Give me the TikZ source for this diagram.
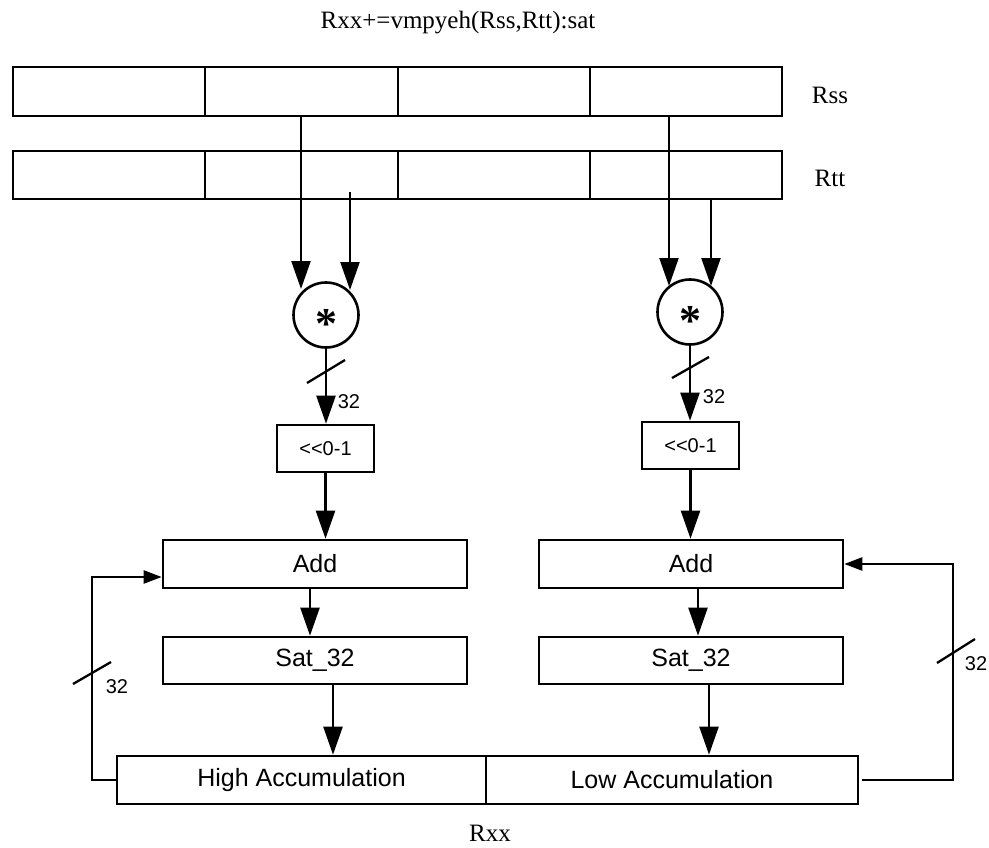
\documentclass[tikz,border=0pt]{standalone}
\usepackage{fontspec}
\setmainfont{Liberation Serif}
\setsansfont{Liberation Sans}
\usetikzlibrary{arrows.meta}
\begin{document}
\begin{tikzpicture}[x=1pt,y=-1pt,
  cell/.style={draw, line width=2.6pt, inner sep=0pt, minimum width=192pt, minimum height=49pt},
  unit/.style={draw, line width=2.6pt, inner sep=0pt, minimum width=304pt, minimum height=48pt, font=\sffamily\fontsize{25}{25}\selectfont},
  shbox/.style={draw, line width=2.6pt, inner sep=0pt, minimum width=97pt, minimum height=47pt, font=\sffamily\fontsize{20}{20}\selectfont},
  mul/.style={draw, circle, line width=2.6pt, inner sep=0pt, minimum size=65pt},
  conn/.style={line width=2.3pt},
  bigtip/.style={-{Triangle[length=28pt,width=19pt]}},
  smalltip/.style={-{Triangle[length=18pt,width=13pt]}},
  lbl/.style={font=\fontsize{25}{25}\selectfont, inner sep=0pt},
  bits/.style={font=\sffamily\fontsize{20}{20}\selectfont, inner sep=0pt},
  star/.style={font=\bfseries\fontsize{44}{44}\selectfont, inner sep=0pt}
]
\useasboundingbox (0,0) rectangle (989,848);

% title
\node[lbl] (title) at (458,23) {Rxx+=vmpyeh(Rss,Rtt):sat};

% Rss register
\node[cell] (s1) at (109,91.5) {};
\node[cell, minimum width=193pt] (s2) at (301.5,91.5) {};
\node[cell] (s3) at (494,91.5) {};
\node[cell] (s4) at (686,91.5) {};
\node[lbl] (rss) at (830,95) {Rss};

% Rtt register
\node[cell, minimum height=48pt] (t1) at (109,175) {};
\node[cell, minimum width=193pt, minimum height=48pt] (t2) at (301.5,175) {};
\node[cell, minimum height=48pt] (t3) at (494,175) {};
\node[cell, minimum height=48pt] (t4) at (686,175) {};
\node[lbl] (rtt) at (830,178) {Rtt};

% multipliers
\node[mul] (m1) at (326,315) {};
\node[star] (st1) at (326,324) {*};
\node[mul] (m2) at (690,312) {};
\node[star] (st2) at (690,321) {*};

% inputs to multipliers
\coordinate (a1) at (301,116);
\coordinate (a1e) at (301,289);
\coordinate (b1) at (350,192);
\coordinate (b1e) at (350,290);
\coordinate (a2) at (669,116);
\coordinate (a2e) at (669,286);
\coordinate (b2) at (711,199);
\coordinate (b2e) at (711,286);
\draw[conn,bigtip] (a1) -- (a1e);
\draw[conn,bigtip] (b1) -- (b1e);
\draw[conn,bigtip] (a2) -- (a2e);
\draw[conn,bigtip] (b2) -- (b2e);

% shifters
\node[shbox] (sh1) at (325.5,448.5) {<{}<0-1};
\node[shbox] (sh2) at (690.5,445.5) {<{}<0-1};
\draw[conn,bigtip] (m1.south) -- (m1.south |- sh1.north);
\draw[conn,bigtip] (m2.south) -- (m2.south |- sh2.north);
\draw[conn] (307,383) -- (345,360);
\draw[conn] (672,378) -- (709,357);
\node[bits] (n1) at (349,402) {32};
\node[bits] (n2) at (714,397) {32};

% adders
\node[unit] (add1) at (315,564) {Add};
\node[unit] (add2) at (691,564) {Add};
\draw[conn,bigtip] (sh1.south) -- (sh1.south |- add1.north);
\draw[conn,bigtip] (sh2.south) -- (sh2.south |- add2.north);

% saturation
\node[unit, minimum height=47pt] (sat1) at (315,660.5) {Sat\_32};
\node[unit, minimum height=47pt] (sat2) at (691,660.5) {Sat\_32};
\draw[conn,bigtip] ([xshift=-5pt]add1.south) -- ([xshift=-5pt]add1.south |- sat1.north);
\draw[conn,bigtip] ([xshift=7pt]add2.south) -- ([xshift=7pt]add2.south |- sat2.north);

% accumulators
\node[unit, minimum width=369pt] (hi) at (301.5,780) {High Accumulation};
\node[unit, minimum width=372pt] (lo) at (672,780) {Low Accumulation};
\draw[conn,bigtip] ([xshift=18pt]sat1.south) -- ([xshift=18pt]sat1.south |- hi.north);
\draw[conn,bigtip] ([xshift=18pt]sat2.south) -- ([xshift=18pt]sat2.south |- lo.north);
\node[lbl] (rxx) at (490,833) {Rxx};

% feedback paths
\coordinate (fbL) at (92,577);
\coordinate (fbR) at (953,564);
\draw[conn,smalltip] (hi.west) -| (fbL) -- (add1.west |- fbL);
\draw[conn,smalltip] ([xshift=3pt]lo.east) -| (fbR) -- (add2.east);
\draw[conn] (73,684) -- (111,662);
\draw[conn] (937,663) -- (975,639);
\node[bits] (n3) at (117,687) {32};
\node[bits] (n4) at (976,664) {32};
\end{tikzpicture}
\end{document}
